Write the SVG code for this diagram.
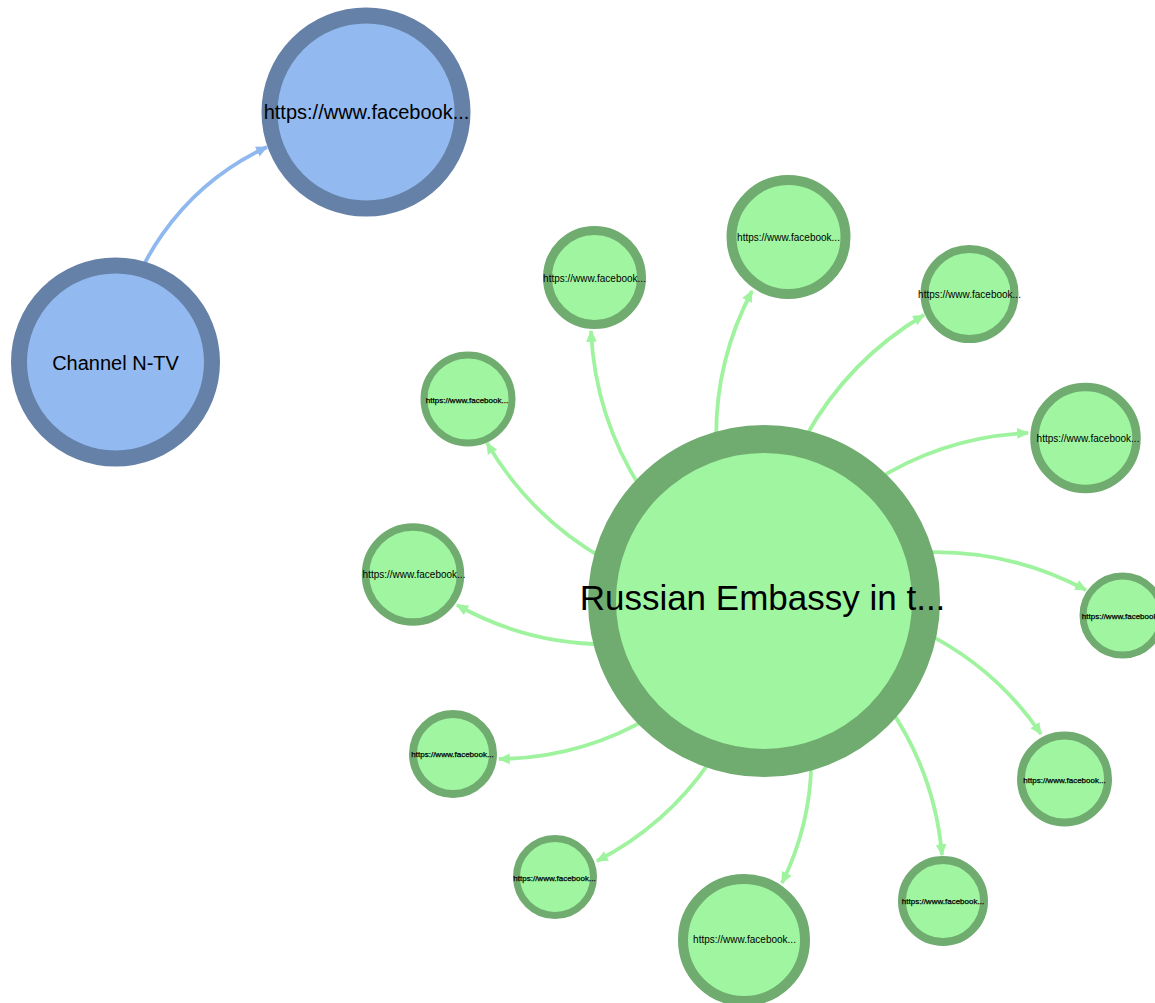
<svg xmlns="http://www.w3.org/2000/svg" width="1155" height="1003" viewBox="0 0 1155 1003">
<defs>
<marker id="arrG" viewBox="0 -5 10 10" refX="9" refY="0" markerWidth="12" markerHeight="12" markerUnits="userSpaceOnUse" orient="auto"><path d="M0,-4.5L10,0L0,4.5Z" fill="#9ff39f"/></marker>
<marker id="arrB" viewBox="0 -5 10 10" refX="9" refY="0" markerWidth="12" markerHeight="12" markerUnits="userSpaceOnUse" orient="auto"><path d="M0,-4.5L10,0L0,4.5Z" fill="#8fb8ef"/></marker>
<style>
.eg{fill:none;stroke:#9ff39f;stroke-width:3.8;marker-end:url(#arrG)}
.eb{fill:none;stroke:#8fb8ef;stroke-width:3.8;marker-end:url(#arrB)}
.ng{fill:#a0f5a0;stroke:#70ab70}
.nb{fill:#92b9f0;stroke:#6581a8}
text{font-family:"Liberation Sans",Arial,sans-serif;fill:#000;text-anchor:middle}
.s{stroke:#000;stroke-width:0.25}
</style>
</defs>
<rect width="1155" height="1003" fill="#fff"/>
<g id="connectors">
<path class="eb" d="M115.5,362 A263,263 0 0,1 267,147"/>
<path class="eg" d="M764,601 A310,310 0 0,1 752,291"/>
<path class="eg" d="M764,601 A321,321 0 0,1 591,331"/>
<path class="eg" d="M764,601 A328,328 0 0,1 924,315"/>
<path class="eg" d="M764,601 A313,313 0 0,1 1028,433"/>
<path class="eg" d="M764,601 A322,322 0 0,1 1086,590"/>
<path class="eg" d="M764,601 A307,307 0 0,1 1041,734"/>
<path class="eg" d="M764,601 A310,310 0 0,1 942,855"/>
<path class="eg" d="M764,601 A283,283 0 0,1 782,883"/>
<path class="eg" d="M764,601 A309,309 0 0,1 597,861"/>
<path class="eg" d="M764,601 A308,308 0 0,1 499,759"/>
<path class="eg" d="M764,601 A307,307 0 0,1 457,605"/>
<path class="eg" d="M764,601 A319,319 0 0,1 487,443"/>
</g>
<g id="node-channel-ntv"><circle class="nb" cx="115.5" cy="362" r="96.5" stroke-width="16"/><text x="115.5" y="370" font-size="20">Channel N-TV</text></g>
<g id="node-fb-blue"><circle class="nb" cx="366" cy="112" r="96.5" stroke-width="16"/><text x="366.5" y="119" font-size="20">https://www.facebook...</text></g>
<g id="node-embassy"><circle class="ng" cx="764" cy="601" r="162" stroke-width="28"/><text x="762.5" y="610" font-size="35">Russian Embassy in t...</text></g>
<g id="node-fb-1"><circle class="ng" cx="788.5" cy="237" r="57" stroke-width="10"/><text x="788.5" y="241" font-size="10">https://www.facebook...</text></g>
<g id="node-fb-2"><circle class="ng" cx="594.5" cy="277.5" r="47" stroke-width="9"/><text x="594.5" y="282" font-size="10">https://www.facebook...</text></g>
<g id="node-fb-3"><circle class="ng" cx="969.5" cy="294" r="45" stroke-width="8"/><text x="969.5" y="298" font-size="10">https://www.facebook...</text></g>
<g id="node-fb-4"><circle class="ng" cx="1085.5" cy="438" r="51" stroke-width="8.5"/><text x="1088" y="442" font-size="10">https://www.facebook...</text></g>
<g id="node-fb-5"><circle class="ng" cx="1122.5" cy="615.5" r="39.5" stroke-width="7"/><text class="s" x="1123" y="619" font-size="8">https://www.facebook...</text></g>
<g id="node-fb-6"><circle class="ng" cx="1064.5" cy="779" r="43.5" stroke-width="8"/><text class="s" x="1064.5" y="783" font-size="8">https://www.facebook...</text></g>
<g id="node-fb-7"><circle class="ng" cx="943" cy="901" r="41" stroke-width="8"/><text class="s" x="943" y="904" font-size="8">https://www.facebook...</text></g>
<g id="node-fb-8"><circle class="ng" cx="744" cy="940" r="61" stroke-width="10"/><text x="744.5" y="943" font-size="10">https://www.facebook...</text></g>
<g id="node-fb-9"><circle class="ng" cx="555" cy="877" r="38.5" stroke-width="7"/><text class="s" x="554.5" y="881" font-size="8">https://www.facebook...</text></g>
<g id="node-fb-10"><circle class="ng" cx="453" cy="754" r="40" stroke-width="8"/><text class="s" x="452.5" y="757" font-size="8">https://www.facebook...</text></g>
<g id="node-fb-11"><circle class="ng" cx="413" cy="574.5" r="47.5" stroke-width="7.5"/><text x="414" y="578" font-size="10">https://www.facebook...</text></g>
<g id="node-fb-12"><circle class="ng" cx="468" cy="399" r="44" stroke-width="7"/><text class="s" x="467" y="403" font-size="8">https://www.facebook...</text></g>
</svg>
